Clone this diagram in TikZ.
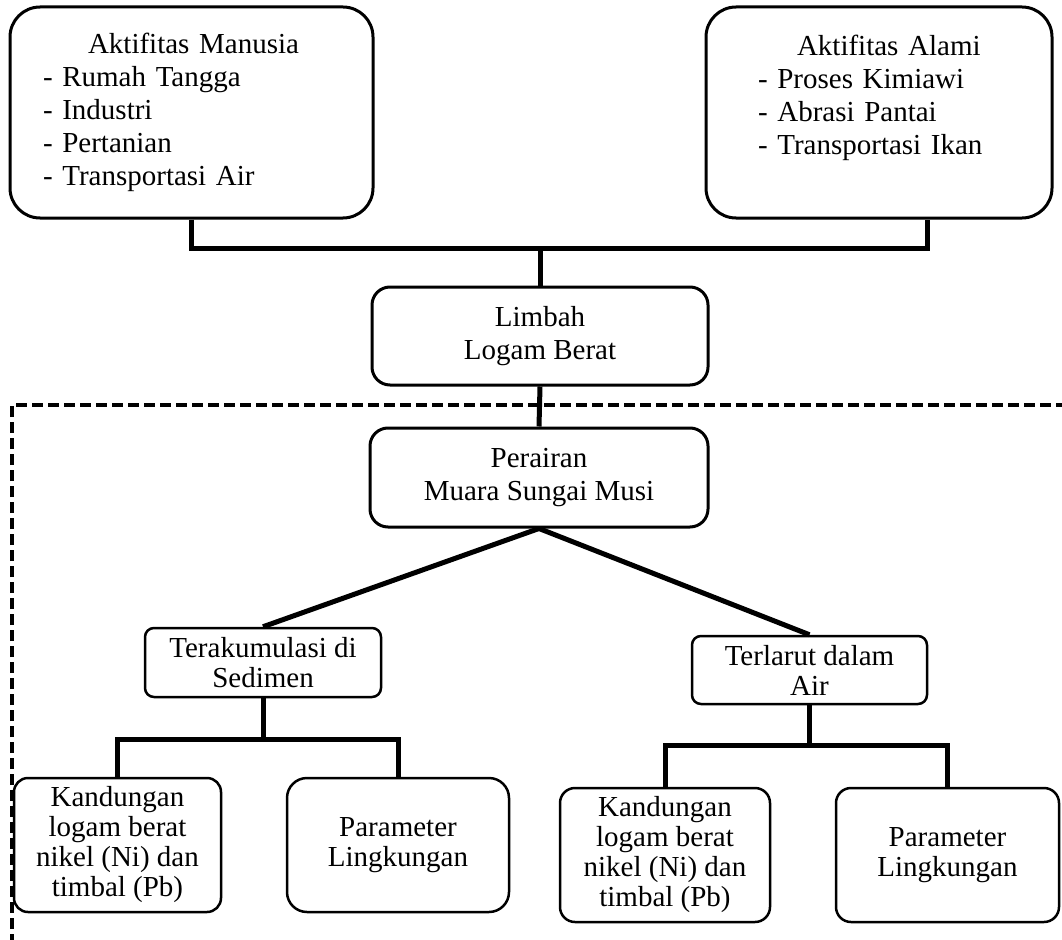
\documentclass[tikz,border=0pt]{standalone}
\usepackage{fontspec}
\setmainfont{Liberation Serif}

\begin{document}
\begin{tikzpicture}[x=1pt, y=-1pt,
    every node/.style={font=\fontsize{29}{33}\selectfont},
    topbox/.style={draw, line width=3pt, rounded corners=30pt, align=left, minimum height=211pt, inner ysep=0pt},
    midbox/.style={draw, line width=3pt, rounded corners=18pt, align=center, inner sep=0pt},
    lowbox/.style={draw, line width=2.5pt, align=center, inner sep=0pt, font=\fontsize{29}{30}\selectfont},
    link/.style={line width=5pt}]
            \useasboundingbox (0,0) rectangle (1062,939);
            % Sumber
            \node[topbox, inner xsep=33pt, text width=297pt] (manusia) at (191.5,112.5)
                {\hspace*{45pt}Aktifitas Manusia\\- Rumah Tangga\\- Industri\\- Pertanian\\- Transportasi Air};
            \node[topbox, inner xsep=52pt, text width=242pt] (alami) at (879,112.5)
                {\hspace*{39pt}Aktifitas Alami\\- Proses Kimiawi\\- Abrasi Pantai\\- Transportasi Ikan\rule[-36pt]{0pt}{0pt}};
            \node[midbox, minimum width=336pt, minimum height=98pt] (limbah) at (540,336) {Limbah\\Logam Berat};
            % Daerah penelitian
            \draw[line width=4pt, dash pattern=on 11pt off 5pt] (12,945) -- (12,405) -- (1070,405);
            \node[midbox, minimum width=338pt, minimum height=99pt] (perairan) at (539,477.5) {Perairan\\Muara Sungai Musi};
            \node[lowbox, rounded corners=9pt, minimum width=236pt, minimum height=69pt] (sedimen) at (263,662.5) {Terakumulasi di\\Sedimen};
            \node[lowbox, rounded corners=9pt, minimum width=235pt, minimum height=68pt] (larut) at (809.5,670) {Terlarut dalam\\Air};
            \node[lowbox, rounded corners=14pt, minimum width=207pt, minimum height=134pt] (kandA) at (117.5,845)
                {Kandungan\\logam berat\\nikel (Ni) dan\\timbal (Pb)};
            \node[lowbox, rounded corners=20pt, minimum width=222pt, minimum height=134pt] (paramA) at (398,845) {Parameter\\Lingkungan};
            \node[lowbox, rounded corners=15pt, minimum width=210pt, minimum height=134pt] (kandB) at (665,855)
                {Kandungan\\logam berat\\nikel (Ni) dan\\timbal (Pb)};
            \node[lowbox, rounded corners=15pt, minimum width=223pt, minimum height=134pt] (paramB) at (947.5,855) {Parameter\\Lingkungan};
            % Garis
            \coordinate (forkTop) at (540,248);
            \coordinate (forkA) at (263,739);
            \coordinate (forkB) at (809.5,745);
            \draw[link] (manusia.south) |- (forkTop) -| ([xshift=48pt]alami.south);
            \draw[link] (forkTop) -- (limbah.north);
            \draw[link] (limbah.south) -- (perairan.north);
            \draw[link] (perairan.south) -- (sedimen.north);
            \draw[link] (perairan.south) -- (larut.north);
            \draw[link] (sedimen.south) -- (forkA);
            \draw[link] (kandA.north) |- (forkA) -| (paramA.north);
            \draw[link] (larut.south) -- (forkB);
            \draw[link] (kandB.north) |- (forkB) -| (paramB.north);
\end{tikzpicture}
\end{document}
